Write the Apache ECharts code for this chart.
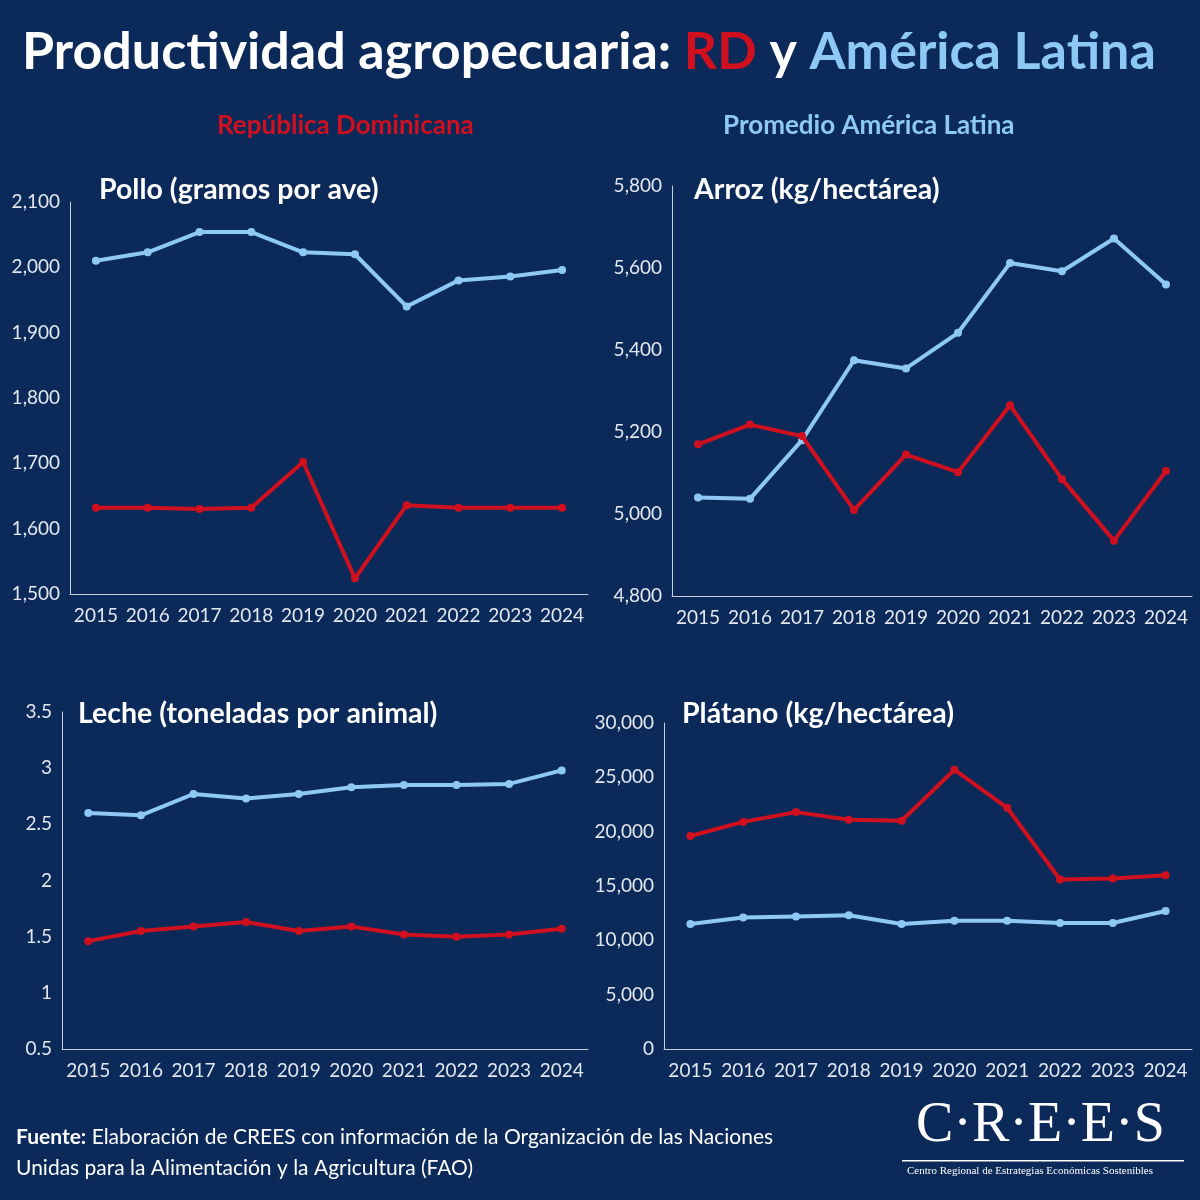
<!DOCTYPE html>
<html><head><meta charset="utf-8">
<script src="https://cdn.jsdelivr.net/npm/echarts@6/dist/echarts.min.js"></script>
<style>html,body{margin:0;background:#0b2a5a}#c{width:1200px;height:1200px}</style>
</head><body><div id="c"></div>
<script>
const years = ['2015','2016','2017','2018','2019','2020','2021','2022','2023','2024'];
const polloRD = [1632,1632,1630,1632,1702,1524,1636,1632,1632,1632];
const polloLA = [2010,2023,2054,2054,2023,2020,1940,1980,1986,1996];
const arrozRD = [5170,5218,5190,5010,5145,5102,5265,5085,4935,5105];
const arrozLA = [5040,5037,5180,5375,5355,5442,5612,5592,5672,5560];
const lecheRD = [1.46,1.55,1.59,1.63,1.55,1.59,1.52,1.50,1.52,1.57];
const lecheLA = [2.60,2.58,2.77,2.73,2.77,2.83,2.85,2.85,2.86,2.98];
const platanoRD = [19600,20900,21800,21100,21000,25700,22200,15600,15700,16000];
const platanoLA = [11500,12100,12200,12300,11500,11800,11800,11600,11600,12700];

const RED = '#d0101e', BLUE = '#8ec9f5', AX = '#c9cfd8';
const font = 'Lato';
const chart = echarts.init(document.getElementById('c'));

const grids = [
  {left: 70, top: 202, width: 518, height: 392},
  {left: 672, top: 186, width: 520, height: 410},
  {left: 62, top: 712, width: 526, height: 337},
  {left: 664, top: 723, width: 528, height: 326}
];
const yCfg = [
  {min: 1500, max: 2100, interval: 100},
  {min: 4800, max: 5800, interval: 200},
  {min: 0.5, max: 3.5, interval: 0.5},
  {min: 0, max: 30000, interval: 5000}
];
const data = [[polloRD, polloLA], [arrozRD, arrozLA], [lecheRD, lecheLA], [platanoRD, platanoLA]];

const series = [];
data.forEach((pair, i) => {
  pair.forEach((d, j) => series.push({
    type: 'line', xAxisIndex: i, yAxisIndex: i, data: d,
    symbol: 'circle', symbolSize: 8, z: j ? 3 : 4,
    lineStyle: {width: 4, color: j ? BLUE : RED},
    itemStyle: {color: j ? BLUE : RED}
  }));
});

function txt(x, y, text, size, color, weight) {
  return {type: 'text', left: x, top: y, style: {text, fill: color, font: (weight || 'normal') + ' ' + size + 'px ' + font}};
}

chart.setOption({
  backgroundColor: '#0b2a5a',
  grid: grids,
  xAxis: grids.map((g, i) => ({
    type: 'category', gridIndex: i, data: years,
    axisLine: {lineStyle: {color: AX}}, axisTick: {show: false},
    axisLabel: {color: '#e3e7ee', fontSize: 19, fontFamily: font, margin: 12, interval: 0}
  })),
  yAxis: yCfg.map((c, i) => ({
    type: 'value', gridIndex: i, min: c.min, max: c.max, interval: c.interval,
    splitLine: {show: false},
    axisLine: {show: true, lineStyle: {color: AX}}, axisTick: {show: false},
    axisLabel: {color: '#e3e7ee', fontSize: 19, fontFamily: font, margin: 10,
      formatter: v => i === 2 ? String(v) : v.toLocaleString('en-US')}
  })),
  series,
  graphic: [
    {type: 'text', left: 22, top: 26, style: {
      rich: {w: {fill: '#fff', font: 'bold 52px ' + font}, r: {fill: RED, font: 'bold 52px ' + font}, b: {fill: BLUE, font: 'bold 52px ' + font}},
      text: '{w|Productividad agropecuaria: }{r|RD}{w| y }{b|América Latina}'}},
    txt(217, 113, 'República Dominicana', 26, RED, 'bold'),
    txt(723, 113, 'Promedio América Latina', 26, BLUE, 'bold'),
    txt(99, 175, 'Pollo (gramos por ave)', 28.5, '#fff', 'bold'),
    txt(694, 175, 'Arroz (kg/hectárea)', 28.5, '#fff', 'bold'),
    txt(78, 699, 'Leche (toneladas por animal)', 28.5, '#fff', 'bold'),
    txt(682, 699, 'Plátano (kg/hectárea)', 28.5, '#fff', 'bold'),
    {type: 'text', left: 16, top: 1127, style: {
      rich: {b: {fill: '#fff', font: 'bold 21px ' + font}, n: {fill: '#fff', font: '21px ' + font, lineHeight: 31}},
      text: '{b|Fuente:}{n| Elaboración de CREES con información de la Organización de las Naciones}\n{n|Unidas para la Alimentación y la Agricultura (FAO)}'}},
    {type: 'text', left: 916, top: 1098, style: {text: 'C·R·E·E·S', fill: '#fff', font: '56px "Liberation Serif"'}},
    {type: 'rect', shape: {x: 902, y: 1160, width: 282, height: 1.5}, style: {fill: '#fff'}},
    {type: 'text', left: 907, top: 1166, style: {text: 'Centro Regional de Estrategias Económicas Sostenibles', fill: '#fff', font: '11px "Liberation Serif"'}}
  ]
});
</script></body></html>
